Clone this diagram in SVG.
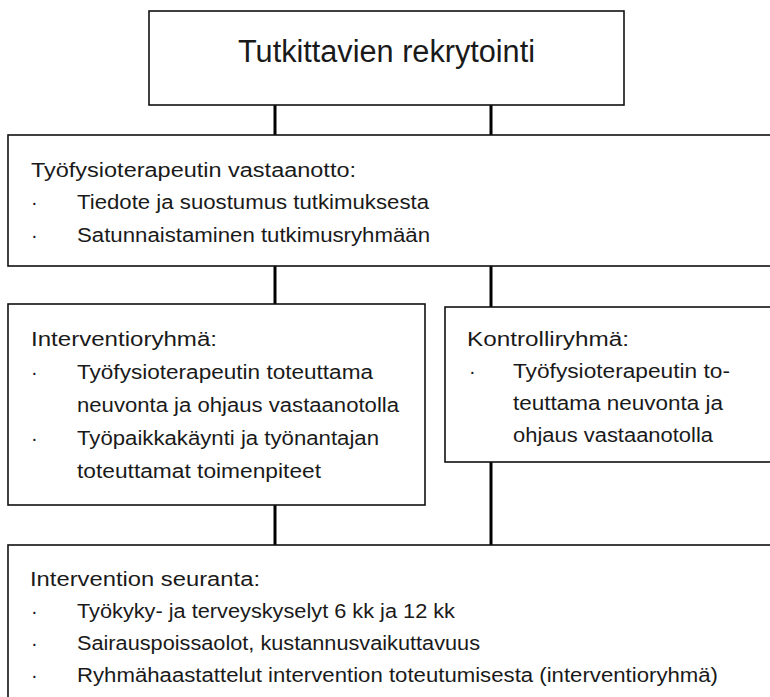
<svg xmlns="http://www.w3.org/2000/svg" width="770" height="697" viewBox="0 0 770 697">
<style>
.box{fill:#fff;stroke:#111;stroke-width:1.6}
.con{stroke:#000;stroke-width:3;fill:none}
text{font-family:"Liberation Sans",Arial,sans-serif;fill:#1a1a1a}
.t{font-size:20px}
.title{font-size:31px}
</style>
<rect width="770" height="697" fill="#fff"/>
<g id="connectors">
<line class="con" x1="275" y1="105" x2="275" y2="135"/>
<line class="con" x1="491" y1="105" x2="491" y2="135"/>
<line class="con" x1="275" y1="266" x2="275" y2="304"/>
<line class="con" x1="491" y1="266" x2="491" y2="307"/>
<line class="con" x1="275" y1="505" x2="275" y2="545"/>
<line class="con" x1="491" y1="462" x2="491" y2="545"/>
</g>
<g id="recruit">
<rect class="box" x="149" y="11" width="475" height="94"/>
<text class="title" x="238" y="62" textLength="297" lengthAdjust="spacingAndGlyphs">Tutkittavien rekrytointi</text>
</g>
<g id="reception">
<rect class="box" x="8" y="135" width="775" height="131"/>
<text class="t" x="31" y="177" textLength="325" lengthAdjust="spacingAndGlyphs">Työfysioterapeutin vastaanotto:</text>
<text class="t" x="31" y="209">·</text>
<text class="t" x="77" y="209" textLength="352" lengthAdjust="spacingAndGlyphs">Tiedote ja suostumus tutkimuksesta</text>
<text class="t" x="31" y="242">·</text>
<text class="t" x="77" y="242" textLength="353" lengthAdjust="spacingAndGlyphs">Satunnaistaminen tutkimusryhmään</text>
</g>
<g id="intervention">
<rect class="box" x="8" y="304" width="417" height="201"/>
<text class="t" x="31" y="346" textLength="186" lengthAdjust="spacingAndGlyphs">Interventioryhmä:</text>
<text class="t" x="31" y="379">·</text>
<text class="t" x="77" y="379" textLength="296" lengthAdjust="spacingAndGlyphs">Työfysioterapeutin toteuttama</text>
<text class="t" x="77" y="412" textLength="322" lengthAdjust="spacingAndGlyphs">neuvonta ja ohjaus vastaanotolla</text>
<text class="t" x="31" y="445">·</text>
<text class="t" x="77" y="445" textLength="302" lengthAdjust="spacingAndGlyphs">Työpaikkakäynti ja työnantajan</text>
<text class="t" x="77" y="478" textLength="244" lengthAdjust="spacingAndGlyphs">toteuttamat toimenpiteet</text>
</g>
<g id="control">
<rect class="box" x="445" y="307" width="335" height="155"/>
<text class="t" x="467" y="346" textLength="162" lengthAdjust="spacingAndGlyphs">Kontrolliryhmä:</text>
<text class="t" x="469" y="378">·</text>
<text class="t" x="513" y="378" textLength="217" lengthAdjust="spacingAndGlyphs">Työfysioterapeutin to-</text>
<text class="t" x="513" y="410" textLength="210" lengthAdjust="spacingAndGlyphs">teuttama neuvonta ja</text>
<text class="t" x="513" y="442" textLength="200" lengthAdjust="spacingAndGlyphs">ohjaus vastaanotolla</text>
</g>
<g id="followup">
<rect class="box" x="8" y="545" width="775" height="170"/>
<text class="t" x="30" y="586" textLength="230" lengthAdjust="spacingAndGlyphs">Intervention seuranta:</text>
<text class="t" x="31" y="618">·</text>
<text class="t" x="77" y="618" textLength="378" lengthAdjust="spacingAndGlyphs">Työkyky- ja terveyskyselyt 6 kk ja 12 kk</text>
<text class="t" x="31" y="650">·</text>
<text class="t" x="77" y="650" textLength="403" lengthAdjust="spacingAndGlyphs">Sairauspoissaolot, kustannusvaikuttavuus</text>
<text class="t" x="31" y="682">·</text>
<text class="t" x="77" y="682" textLength="641" lengthAdjust="spacingAndGlyphs">Ryhmähaastattelut intervention toteutumisesta (interventioryhmä)</text>
</g>
</svg>
